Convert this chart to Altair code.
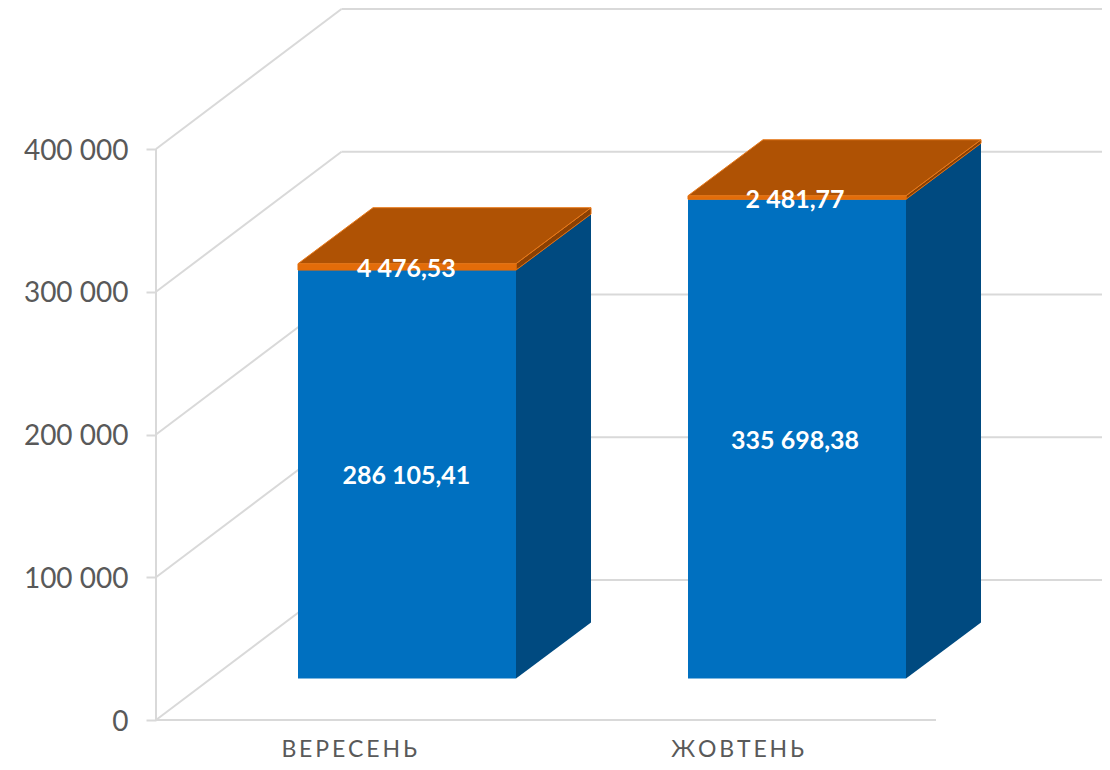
import altair as alt
import pandas as pd

# --- values ---
categories = ["ВЕРЕСЕНЬ", "ЖОВТЕНЬ"]
display_categories = ["В\u2009Е\u2009Р\u2009Е\u2009С\u2009Е\u2009Н\u2009Ь", "Ж\u2009О\u2009В\u2009Т\u2009Е\u2009Н\u2009Ь"]
series_blue = [286105.41, 335698.38]
series_orange = [4476.53, 2481.77]
labels_blue = ["286 105,41", "335 698,38"]
labels_orange = ["4 476,53", "2 481,77"]
ticks = [0, 100000, 200000, 300000, 400000]

# --- oblique projection in data units (1 x unit = one category slot) ---
PX_X = 390.0
PX_Y = 142.75 / 100000
WALL_DX, WALL_DY = 185.5 / PX_X, 140 / PX_Y
BAR_DX, BAR_DY = 75 / PX_X, 56 / PX_Y
BAR_X0, BAR_Y0 = 142.0 / PX_X, 41.5 / PX_Y
BAR_W = 218 / PX_X
W, H = 946, 712
x_scale = alt.Scale(domain=[0, W / PX_X], nice=False, zero=False)
y_scale = alt.Scale(domain=[0, H / PX_Y], nice=False, zero=False)
GRID = "#d9d9d9"
FONT = "Lato"

slot_pos = [0.494, 1.49]
slot_labels = " : ".join(
    f"datum.value == {slot_pos[i]} ? '{display_categories[i]}'" for i in range(len(categories))
) + " : ''"
x_axis = alt.Axis(
    values=slot_pos, title=None, grid=False, domain=False, ticks=False,
    labelExpr=slot_labels, labelFont=FONT, labelFontSize=23, labelColor="#595959",
    labelPadding=18, labelFlush=False, labelOverlap=False, labelAngle=0)
y_axis = alt.Axis(
    values=ticks, title=None, grid=False, domain=False, ticks=True, tickSize=10,
    tickColor=GRID, tickWidth=2,
    labelExpr="replace(format(datum.value, ','), ',', ' ')",
    labelFont=FONT, labelFontSize=28, labelColor="#595959", labelPadding=18,
    labelOffset=2, labelOverlap=False)

X = alt.X("x:Q", scale=x_scale, axis=x_axis)
Y = alt.Y("y:Q", scale=y_scale, axis=y_axis)


def face_rows(name, pts):
    return [dict(face=name, x=a, y=b, y2=c) for (a, b, c) in pts]


blue_side, blue_front, or_side, or_front, or_top = [], [], [], [], []
label_rows = []
for i in range(len(categories)):
    l = i + BAR_X0
    r = l + BAR_W
    b0 = BAR_Y0
    b1 = b0 + series_blue[i]
    b2 = b1 + series_orange[i]
    n = categories[i]
    blue_front += face_rows(n, [(l, b0, b1), (r, b0, b1)])
    blue_side += face_rows(n, [(r, b0, b1), (r + BAR_DX, b0 + BAR_DY, b1 + BAR_DY)])
    or_front += face_rows(n, [(l, b1, b2), (r, b1, b2)])
    or_side += face_rows(n, [(r, b1, b2), (r + BAR_DX, b1 + BAR_DY, b2 + BAR_DY)])
    or_top += face_rows(n, [
        (l, b2, b2),
        (l + BAR_DX, b2, b2 + BAR_DY),
        (r, b2, b2 + BAR_DY),
        (r + BAR_DX, b2 + BAR_DY, b2 + BAR_DY),
    ])
    cx = (l + r) / 2 - 0.0015 - 0.0035 * i
    label_rows.append(dict(x=cx, y=b0 + series_blue[i] / 2, t=labels_blue[i]))
    label_rows.append(dict(x=cx, y=b1 + series_orange[i] / 2, t=labels_orange[i]))


def face(rows, fill, stroke=None, sw=0.0):
    kw = dict(color=fill, opacity=1, clip=False, interpolate="linear", orient="vertical")
    if stroke:
        kw.update(stroke=stroke, strokeWidth=sw)
    return alt.Chart(pd.DataFrame(rows)).mark_area(**kw).encode(
        x=X, y=Y, y2=alt.Y2("y2:Q"), detail="face:N"
    )


floor = alt.Chart(pd.DataFrame({"x": [0.0, 2.0], "y": [0.0, 0.0]})).mark_line(
    color=GRID, strokeWidth=2, clip=False
).encode(x=X, y=Y)

# walls
wall_rows = []
for k, v in enumerate(ticks):
    wall_rows.append(dict(x=0, x2=WALL_DX, y=v, y2=v + WALL_DY, k=f"d{k}"))
    wall_rows.append(dict(x=WALL_DX, x2=W / PX_X, y=v + WALL_DY, y2=v + WALL_DY, k=f"b{k}"))
wall_rows.append(dict(x=0, x2=0, y=0, y2=ticks[-1], k="axis"))
walls = alt.Chart(pd.DataFrame(wall_rows)).mark_rule(color=GRID, strokeWidth=2, clip=False).encode(
    x=X, x2="x2:Q", y=Y, y2="y2:Q"
)

text = alt.Chart(pd.DataFrame(label_rows)).mark_text(
    color="white", font=FONT, fontWeight="bold", fontSize=25, dy=2, clip=False
).encode(x=X, y=Y, text="t:N")

chart = alt.layer(
    floor,
    walls,
    face(blue_side, "#004A80"),
    face(blue_front, "#0070C0"),
    face(or_side, "#8A4003", "#E36C09", 1),
    face(or_front, "#E36C09", "#E36C09", 1),
    face(or_top, "#AF5204", "#E87A1C", 1),
    text,
).resolve_scale(x="shared", y="shared").properties(
    width=W, height=H,
    padding={"left": 148, "top": 0, "right": 0, "bottom": 42},
    autosize=alt.AutoSizeParams(type="none"),
    background="white",
).configure_view(stroke=None)

chart.save("out.html", embed_options={"renderer": "svg", "actions": False})
